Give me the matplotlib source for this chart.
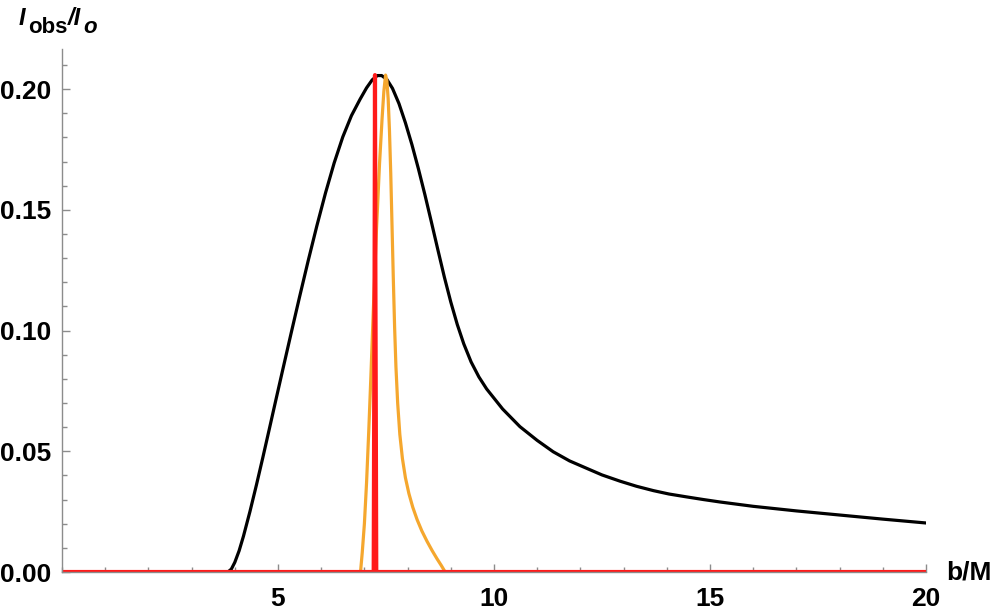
import matplotlib
matplotlib.use("Agg")
import matplotlib.pyplot as plt
from matplotlib.ticker import MultipleLocator, FormatStrFormatter

# values
black_b = [0, 3.84, 3.92, 4.00, 4.10, 4.20, 4.35, 4.50, 4.65, 4.80, 4.95, 5.10,
           5.30, 5.50, 5.70, 5.90, 6.10, 6.30, 6.50, 6.70, 6.90, 7.05, 7.18,
           7.30, 7.40, 7.52, 7.65, 7.80, 7.95, 8.10, 8.25, 8.40, 8.55, 8.70,
           8.85, 9.00, 9.15, 9.30, 9.47, 9.65, 9.83, 10.20, 10.60, 11.00,
           11.37, 11.75, 12.15, 12.50, 12.92, 13.30, 13.69, 14.05, 14.46,
           14.85, 15.23, 16.00, 17.00, 18.00, 19.00, 20.00]
black_y = [0, 0, 0.0012, 0.0040, 0.0088, 0.0148, 0.0250, 0.0360, 0.0475,
           0.0593, 0.0712, 0.0830, 0.0986, 0.1140, 0.1290, 0.1434, 0.1570,
           0.1694, 0.1802, 0.1890, 0.1958, 0.2005, 0.2038, 0.2056, 0.2056,
           0.2040, 0.2003, 0.1940, 0.1860, 0.1770, 0.1670, 0.1563, 0.1450,
           0.1335, 0.1222, 0.1118, 0.1025, 0.0945, 0.0870, 0.0808, 0.0758,
           0.0675, 0.0602, 0.0545, 0.0498, 0.0460, 0.0429, 0.0402, 0.0376,
           0.0355, 0.0337, 0.0323, 0.0311, 0.0300, 0.0290, 0.0272, 0.0253,
           0.0236, 0.0219, 0.0203]

orange_b = [0, 6.91, 6.95, 7.00, 7.05, 7.10, 7.15, 7.21, 7.28, 7.35, 7.41,
            7.45, 7.49, 7.52, 7.55, 7.58, 7.61, 7.64, 7.67, 7.70, 7.73, 7.77,
            7.82, 7.88, 7.95, 8.03, 8.12, 8.22, 8.33, 8.45, 8.57, 8.68, 8.78,
            8.87, 20]
orange_y = [0, 0, 0.008, 0.020, 0.037, 0.058, 0.081, 0.110, 0.142, 0.169,
            0.188, 0.199, 0.2058, 0.2035, 0.196, 0.183, 0.165, 0.143, 0.121,
            0.101, 0.085, 0.070, 0.057, 0.047, 0.039, 0.0325, 0.0268, 0.0217,
            0.0170, 0.0127, 0.0088, 0.0055, 0.0027, 0, 0]

red_b = [0, 7.215, 7.235, 7.245, 7.255, 7.275, 20]
red_y = [0, 0, 0.120, 0.2058, 0.120, 0, 0]

x_major = [5, 10, 15, 20]
y_major = [0.00, 0.05, 0.10, 0.15, 0.20]

plt.rcParams['font.family'] = ['Liberation Sans', 'DejaVu Sans']
plt.rcParams['font.weight'] = 'bold'

fig = plt.figure(figsize=(9.97, 6.15), dpi=100)
ax = fig.add_axes([62 / 997, 43 / 615, 864 / 997, 523 / 615])

ax.plot(black_b, black_y, color='black', lw=2.3, solid_joinstyle='round')
ax.plot(orange_b, orange_y, color='#f5a72e', lw=2.3, solid_joinstyle='round')
ax.plot(red_b, red_y, color='#ff1a1a', lw=3.0, solid_joinstyle='round')

ax.set_xlim(0, 20)
ax.set_ylim(0, 0.2166)

ax.spines['top'].set_visible(False)
ax.spines['right'].set_visible(False)
for s in ['left', 'bottom']:
    ax.spines[s].set_color('#8c8c8c')
    ax.spines[s].set_linewidth(1.0)

ax.set_xticks(x_major)
ax.set_yticks(y_major)
ax.xaxis.set_minor_locator(MultipleLocator(1))
ax.yaxis.set_minor_locator(MultipleLocator(0.01))
ax.yaxis.set_major_formatter(FormatStrFormatter('%.2f'))

ax.tick_params(which='both', direction='in', color='#8c8c8c', width=1)
ax.tick_params(which='major', length=6)
ax.tick_params(which='minor', length=3.6)
ax.tick_params(axis='x', which='major', pad=11, labelsize=19)
ax.tick_params(axis='y', which='major', pad=8, labelsize=19)

# axis label at the top left, pieced together like the reference
W, H = 997, 615
fig.text(19 / W, 1 - 25 / H, 'I', fontsize=17, style='italic', fontweight='bold',
         va='baseline')
fig.text(28 / W, 1 - 33 / H, 'obs', fontsize=16, fontweight='bold',
         va='baseline')
fig.text(68 / W, 1 - 25 / H, '/I', fontsize=17, style='italic', fontweight='bold',
         va='baseline')
fig.text(83 / W, 1 - 33 / H, 'o', fontsize=16, style='italic', fontweight='bold',
         va='baseline')

fig.text(946 / W, 43 / H, 'b/M', fontsize=19, fontweight='bold',
         ha='left', va='center')

fig.savefig('out.png', dpi=100)
